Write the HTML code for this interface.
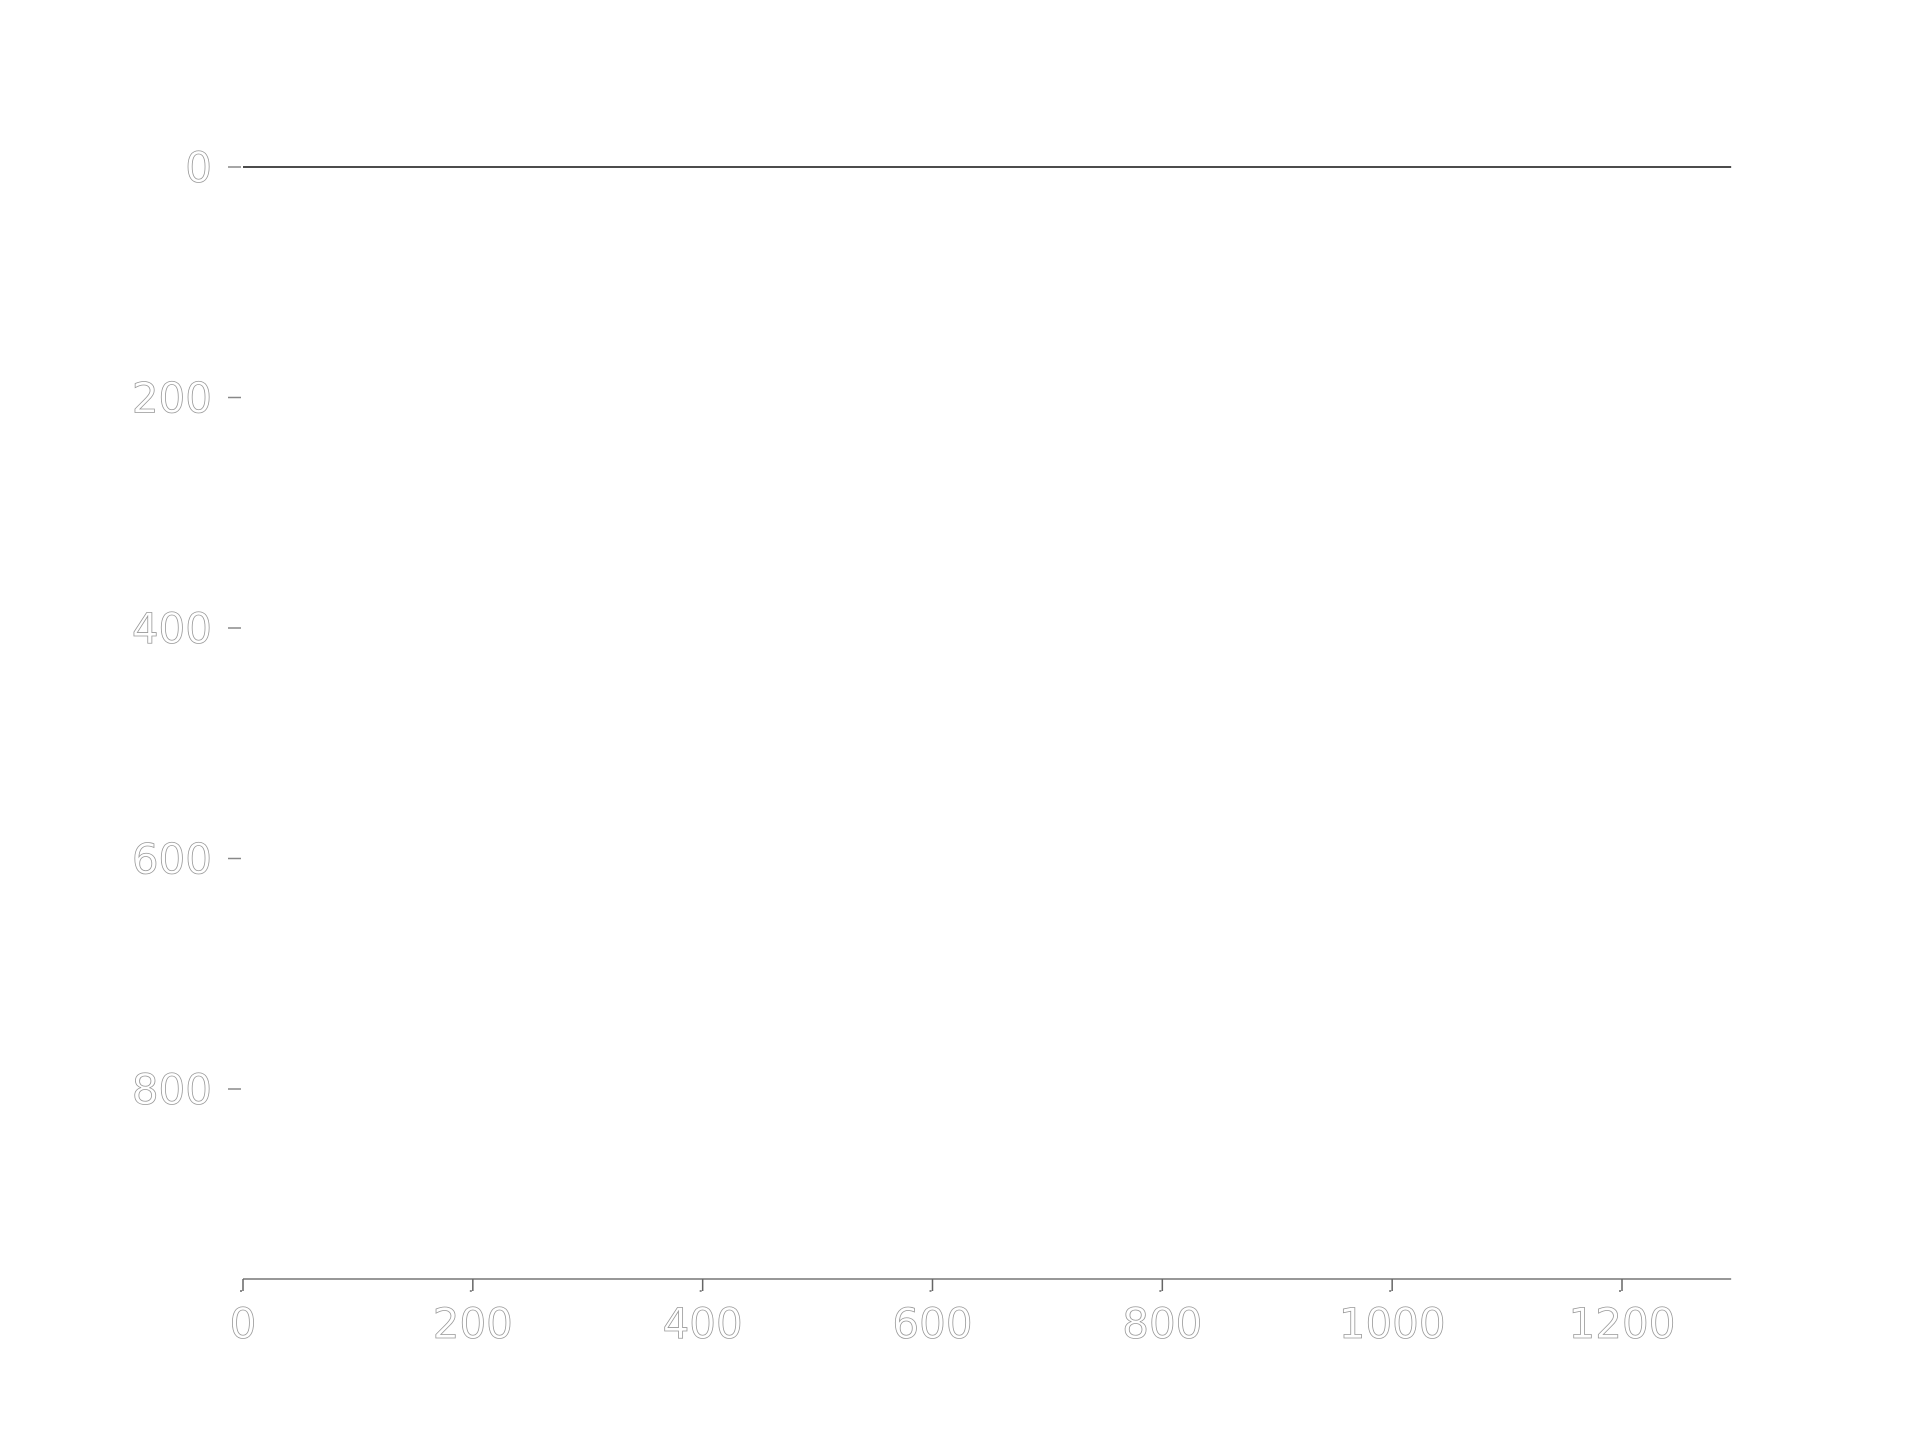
<!DOCTYPE html>
<html><head><meta charset="utf-8"><style>
html,body{margin:0;padding:0;background:#fff;}
svg{display:block;}
text{font-family:"DejaVu Sans","Liberation Sans",sans-serif;font-size:42px;fill:#fff;stroke:#999;stroke-width:0.8;}
</style></head><body>
<svg id="chart" width="1921" height="1437" viewBox="0 0 1921 1437" xmlns="http://www.w3.org/2000/svg">
<g id="plot"></g>
</svg>
<script>
const seriesX = [0, 1295];
const seriesY = [0, 0];
const xTicks = [0, 200, 400, 600, 800, 1000, 1200];
const yTicks = [0, 200, 400, 600, 800];
const xMax = 1295;

const X0 = 243, XS = 1379/1200;
const Y0 = 167, YS = 922/800;
function sx(v){ return X0 + v*XS; }
function sy(v){ return Y0 + v*YS; }

const NS = "http://www.w3.org/2000/svg";
const g = document.getElementById('plot');
function mk(tag, attrs){ const e=document.createElementNS(NS,tag); for(const k in attrs) e.setAttribute(k,attrs[k]); g.appendChild(e); return e; }

const xa = mk('line',{x1:sx(0),x2:sx(xMax),y1:1279,y2:1279,stroke:'#777','stroke-width':1.5});



xTicks.forEach(v=>{
  const t = mk('path',{d:`M${sx(v)} 1279 V1291 M${sx(v)-1} 1291 h-2`,stroke:'#666',fill:'none','stroke-width':1.5});
  
  
  const l = mk('text',{x:sx(v),y:1338,'text-anchor':'middle'});
  l.textContent = v;
  
  
});

yTicks.forEach(v=>{
  const t = mk('line',{x1:228,x2:241,y1:sy(v),y2:sy(v),stroke:'#888','stroke-width':1.5});
  
  
  const l = mk('text',{x:212,y:sy(v)+15,'text-anchor':'end'});
  l.textContent = v;
  
  
});

const pts = seriesX.map((x,i)=>sx(x)+','+sy(seriesY[i])).join(' ');
const line = mk('polyline',{points:pts,fill:'none',stroke:'#333','stroke-width':1.8});


</script>
</body></html>
